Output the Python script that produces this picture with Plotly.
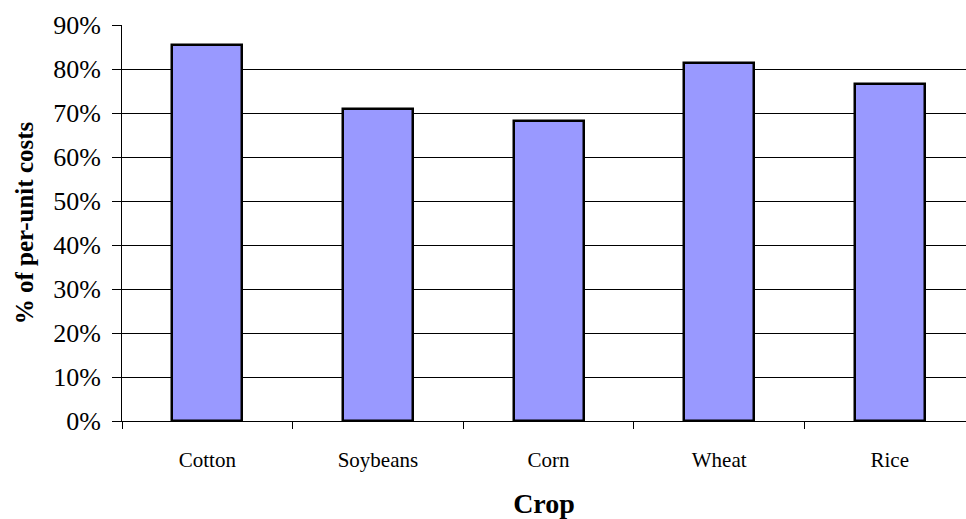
import plotly.graph_objects as go

crops = ["Cotton", "Soybeans", "Corn", "Wheat", "Rice"]
share_pct = [85.5, 71.0, 68.1, 81.4, 76.5]
y_ticks = [0, 10, 20, 30, 40, 50, 60, 70, 80, 90]
y_tick_text = [f"{v}%" for v in y_ticks]

serif = "Liberation Serif, Times New Roman, serif"

fig = go.Figure(
    go.Bar(
        x=crops,
        y=share_pct,
        width=0.41,
        marker=dict(color="#9999FF", line=dict(color="black", width=2.5)),
        hoverinfo="x+y",
    )
)

fig.update_layout(
    width=966,
    height=519,
    margin=dict(l=122, r=0, t=25, b=98),
    paper_bgcolor="white",
    plot_bgcolor="white",
    showlegend=False,
    bargap=0,
    font=dict(family=serif, color="black"),
)

fig.update_xaxes(
    type="category",
    range=[-0.5, 4.447],
    showline=True,
    linecolor="black",
    linewidth=1,
    ticks="outside",
    tickson="boundaries",
    ticklen=7,
    tickcolor="black",
    tickfont=dict(family=serif, size=21, color="black"),
    ticklabelstandoff=20,
    showgrid=False,
    title=dict(text="<b>Crop</b>", font=dict(family=serif, size=28, color="black"), standoff=26),
)

fig.update_yaxes(
    range=[0, 90],
    tickvals=y_ticks,
    ticktext=y_tick_text,
    showline=True,
    linecolor="black",
    linewidth=1,
    ticks="outside",
    ticklen=9,
    tickcolor="black",
    tickfont=dict(family=serif, size=26, color="black"),
    ticklabelstandoff=6,
    showgrid=True,
    gridcolor="black",
    gridwidth=1,
    zeroline=False,
    title=dict(text="<b>% of per-unit costs</b>", font=dict(family=serif, size=25, color="black"), standoff=12),
)

fig.write_html("out.html")
